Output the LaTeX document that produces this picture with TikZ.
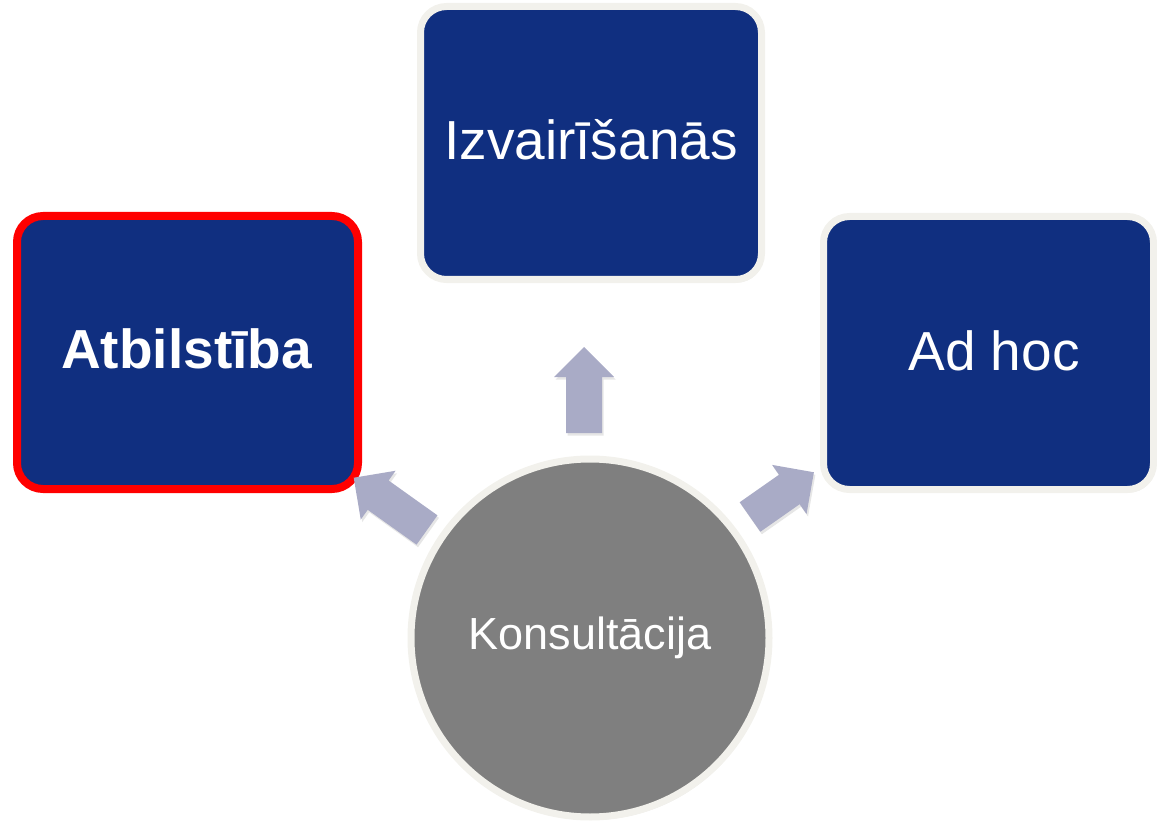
\documentclass[tikz,border=0pt]{standalone}
\usepackage{fontspec}
\setmainfont{Liberation Sans}
\usetikzlibrary{shadows}
\definecolor{boxblue}{RGB}{16,47,128}
\definecolor{rimgrey}{RGB}{242,241,236}
\definecolor{circgrey}{RGB}{127,127,127}
\definecolor{arrowcol}{RGB}{169,171,198}
\tikzset{
  bluebox/.style={rectangle, fill=boxblue, draw=rimgrey, line width=7pt, rounded corners=26pt,
    inner sep=0pt, outer sep=0pt,
    drop shadow={opacity=0.22, shadow xshift=1.5pt, shadow yshift=-3pt}},
  redbox/.style={bluebox, draw=red, line width=8pt},
  bigtext/.style={text=white, anchor=base, font=\fontsize{55}{60}\selectfont, inner sep=0pt},
  circtext/.style={text=white, anchor=base, font=\fontsize{45}{50}\selectfont, inner sep=0pt},
  hubcircle/.style={circle, fill=circgrey, draw=rimgrey, line width=7pt, inner sep=0pt,
    minimum size=358pt,
    drop shadow={opacity=0.2, shadow xshift=1.5pt, shadow yshift=-3pt}},
  fatarrow/.style={fill=arrowcol, draw=none,
    drop shadow={opacity=0.2, shadow xshift=1.5pt, shadow yshift=-2.5pt}}
}
\newcommand{\fatarrowshape}[1]{%
  \fill[fatarrow] (0,-18) -- (#1-30,-18) -- (#1-30,-30) -- (#1,0) -- (#1-30,30) -- (#1-30,18) -- (0,18) -- cycle;}
\begin{document}
\begin{tikzpicture}[x=1pt,y=-1pt]
\useasboundingbox (0,0) rectangle (1157,821);
\clip (0,0) rectangle (1157,821);

% boxes
\node[bluebox, minimum width=341pt, minimum height=273pt] (topbox) at (591,143) {};
\node[redbox, minimum width=341pt, minimum height=273pt] (leftbox) at (187.5,352.5) {};
\node[bluebox, minimum width=330pt, minimum height=273pt] (rightbox) at (988.5,353) {};

\node[bigtext] (izv) at (591,160) {Izvairīšanās};
\node[bigtext, font=\fontsize{55}{60}\selectfont\bfseries] (atb) at (186.5,368) {Atbilstība};
\node[bigtext] (adh) at (994,370) {Ad hoc};

% arrows
\begin{scope}[shift={(584,433)}, rotate=90]
  \fatarrowshape{86}
\end{scope}
\begin{scope}[shift={(427,530)}, rotate=144.5]
  \fatarrowshape{90}
\end{scope}
\begin{scope}[shift={(750,517)}, rotate=35]
  \fatarrowshape{78}
\end{scope}

% circle
\node[hubcircle] (hub) at (590,638) {};
\node[circtext] (kons) at (590,649) {Konsultācija};
\end{tikzpicture}
\end{document}
